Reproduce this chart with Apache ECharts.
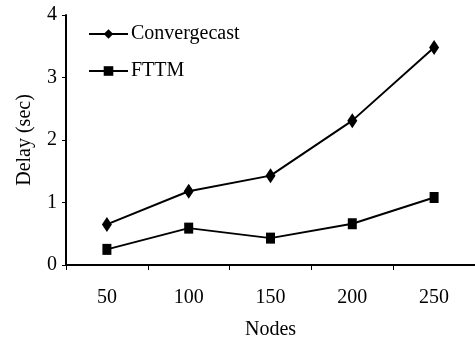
<!DOCTYPE html>
<html><head><meta charset="utf-8">
<script src="https://cdn.jsdelivr.net/npm/echarts@6/dist/echarts.min.js"></script>
<style>html,body{margin:0;padding:0;background:#fff}#c{width:475px;height:345px}</style>
</head><body><div id="c"></div>
<script>
const categories = ['50', '100', '150', '200', '250'];
const convergecast = [0.65, 1.18, 1.43, 2.31, 3.48];
const fttm = [0.25, 0.59, 0.43, 0.66, 1.08];
const seriesNames = ['Convergecast', 'FTTM'];
const xName = 'Nodes';
const yName = 'Delay (sec)';

const font = 'Liberation Serif';
const chart = echarts.init(document.getElementById('c'), null, {renderer: 'canvas'});
chart.setOption({
  animation: false,
  backgroundColor: '#fff',
  textStyle: {fontFamily: font, color: '#000'},
  grid: {left: 66, right: -3.5, top: 15, bottom: 78.3, containLabel: false},
  legend: {
    orient: 'vertical', left: 83, top: 19,
    itemWidth: 39, itemHeight: 12, itemGap: 17,
    textStyle: {fontFamily: font, fontSize: 20, color: '#000', padding: [0, 0, 0, -2]},
    data: seriesNames
  },
  xAxis: {
    type: 'category', data: categories, boundaryGap: true,
    name: xName, nameLocation: 'middle', nameGap: 55,
    nameTextStyle: {fontFamily: font, fontSize: 20, color: '#000'},
    axisLine: {lineStyle: {color: '#000', width: 2}},
    axisTick: {show: true, length: 5, lineStyle: {color: '#000', width: 1}},
    axisLabel: {fontFamily: font, fontSize: 20, color: '#000', margin: 23},
    splitLine: {show: false}
  },
  yAxis: {
    type: 'value', min: 0, max: 4, interval: 1,
    name: yName, nameLocation: 'middle', nameGap: 31,
    nameTextStyle: {fontFamily: font, fontSize: 20, color: '#000'},
    axisLine: {show: true, lineStyle: {color: '#000', width: 2}},
    axisTick: {show: true, length: 4, lineStyle: {color: '#000', width: 1}},
    axisLabel: {fontFamily: font, fontSize: 20, color: '#000', margin: 9},
    splitLine: {show: false}
  },
  series: [
    {name: seriesNames[0], type: 'line', data: convergecast,
     symbol: 'diamond', symbolSize: [10, 15],
     lineStyle: {color: '#000', width: 2}, itemStyle: {color: '#000'}},
    {name: seriesNames[1], type: 'line', data: fttm,
     symbol: 'rect', symbolSize: [9, 11],
     lineStyle: {color: '#000', width: 2}, itemStyle: {color: '#000'}}
  ]
});
</script></body></html>
